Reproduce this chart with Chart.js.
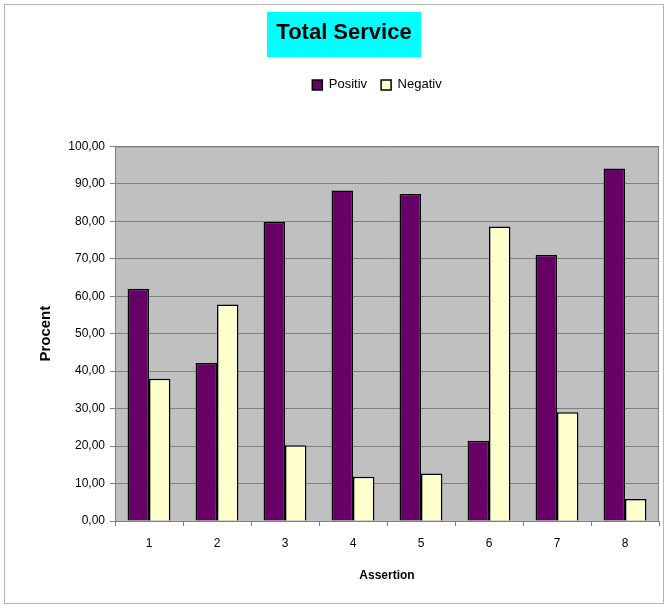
<!DOCTYPE html>
<html>
<head>
<meta charset="utf-8">
<script src="https://cdn.jsdelivr.net/npm/chart.js@4/dist/chart.umd.min.js"></script>
<style>
  html, body { margin: 0; padding: 0; background: #fff; }
  #wrap { position: relative; width: 668px; height: 609px; }
  #frame { position: absolute; left: 4px; top: 4px; width: 660px; height: 600px; border: 1px solid #b8b8b8; box-sizing: border-box; pointer-events: none; }
  canvas { position: absolute; left: 0; top: 0; }
</style>
</head>
<body>
<div id="wrap">
  <canvas id="chart" width="668" height="609"></canvas>
  <div id="frame"></div>
</div>
<script>
// chart data
const assertions = ['1', '2', '3', '4', '5', '6', '7', '8'];
const positiv = [62.0, 42.2, 79.8, 88.2, 87.3, 21.4, 71.0, 94.1];
const negativ = [38.0, 57.8, 20.2, 11.8, 12.7, 78.6, 29.0, 5.9];
const yTicks = [0, 10, 20, 30, 40, 50, 60, 70, 80, 90, 100];

const PLOT_LEFT = 115, PLOT_RIGHT = 659, PLOT_BOTTOM = 521;
const PAD_LEFT = 29, PAD_BOTTOM = 26;
const LEGEND_EXTRA = 45;   // empty space between legend and plot
const LEGEND_SHIFT = 33;   // legend sits right of centre in the original

// grey plot background + cyan box behind the title
const backdrop = {
    id: 'backdrop',
    beforeInit(chart) {
        const legend = chart.legend;
        if (legend) {
            // give the legend box some room underneath
            const fit = legend.fit;
            legend.fit = function () {
                fit.call(this);
                this.height += LEGEND_EXTRA;
            };
            // and nudge it to the right
            const draw = legend.draw;
            legend.draw = function () {
                const c = this.ctx;
                c.save();
                c.translate(LEGEND_SHIFT, 0);
                draw.call(this);
                c.restore();
            };
        }
    },
    beforeDraw(chart) {
        const { ctx, chartArea: a } = chart;
        ctx.save();
        ctx.fillStyle = '#c0c0c0';
        ctx.fillRect(a.left, a.top, a.right - a.left, a.bottom - a.top);
        const t = chart.titleBlock;
        if (t) {
            const cx = (t.left + t.right) / 2;
            ctx.fillStyle = '#00ffff';
            ctx.fillRect(cx - 77, 12, 154, 45);
        }
        ctx.restore();
    },
    afterDatasetsDraw(chart) {
        const { ctx, chartArea: a } = chart;
        ctx.save();
        ctx.strokeStyle = '#808080';
        ctx.lineWidth = 1;
        ctx.strokeRect(a.left + 0.5, a.top + 0.5, a.right - a.left - 1, a.bottom - a.top);
        ctx.restore();
    }
};

const ctx = document.getElementById('chart').getContext('2d');
new Chart(ctx, {
    type: 'bar',
    data: {
        labels: assertions,
        datasets: [
            {
                label: 'Positiv',
                data: positiv,
                backgroundColor: '#660066',
                borderColor: '#000000',
                borderWidth: 1.5,
                borderSkipped: 'bottom'
            },
            {
                label: 'Negativ',
                data: negativ,
                backgroundColor: '#ffffcc',
                borderColor: '#000000',
                borderWidth: 1.5,
                borderSkipped: 'bottom'
            }
        ]
    },
    options: {
        responsive: false,
        animation: false,
        devicePixelRatio: 1,
        layout: { padding: { left: PAD_LEFT, right: 668 - PLOT_RIGHT, top: 8, bottom: PAD_BOTTOM } },
        datasets: { bar: { barPercentage: 1.0, categoryPercentage: 0.63 } },
        plugins: {
            title: {
                display: true,
                text: 'Total Service',
                color: '#000',
                font: { family: 'Arial, "Liberation Sans", sans-serif', size: 22, weight: 'bold' },
                padding: { top: 12, bottom: 18 }
            },
            legend: {
                display: true,
                position: 'top',
                labels: {
                    color: '#000',
                    boxWidth: 10,
                    boxHeight: 10,
                    padding: 14,
                    font: { family: 'Arial, "Liberation Sans", sans-serif', size: 13 }
                }
            },
            tooltip: { enabled: false }
        },
        scales: {
            x: {
                offset: true,
                grid: {
                    display: true,
                    offset: true,
                    drawOnChartArea: false,
                    drawTicks: true,
                    tickLength: 5,
                    color: '#808080'
                },
                border: { display: true, color: '#808080' },
                ticks: {
                    color: '#000',
                    padding: 10,
                    font: { family: 'Arial, "Liberation Sans", sans-serif', size: 12 }
                },
                title: {
                    display: true,
                    text: 'Assertion',
                    color: '#000',
                    font: { family: 'Arial, "Liberation Sans", sans-serif', size: 12, weight: 'bold' },
                    padding: { top: 0, bottom: 0 }
                },
                afterFit(scale) {
                    scale.height = 609 - PAD_BOTTOM - PLOT_BOTTOM;
                }
            },
            y: {
                min: 0,
                max: 100,
                afterBuildTicks(scale) {
                    scale.ticks = yTicks.map(v => ({ value: v }));
                },
                grid: {
                    color: '#808080',
                    lineWidth: 1,
                    tickLength: 5
                },
                border: { display: true, color: '#808080' },
                ticks: {
                    color: '#000',
                    padding: 5,
                    font: { family: 'Arial, "Liberation Sans", sans-serif', size: 12 },
                    callback: (v) => Number(v).toFixed(2).replace('.', ',')
                },
                title: {
                    display: true,
                    text: 'Procent',
                    color: '#000',
                    font: { family: 'Arial, "Liberation Sans", sans-serif', size: 15, weight: 'bold' },
                    padding: { top: 8, bottom: 0 }
                },
                afterFit(scale) {
                    scale.width = PLOT_LEFT - PAD_LEFT;
                }
            }
        }
    },
    plugins: [backdrop]
});
</script>
</body>
</html>
